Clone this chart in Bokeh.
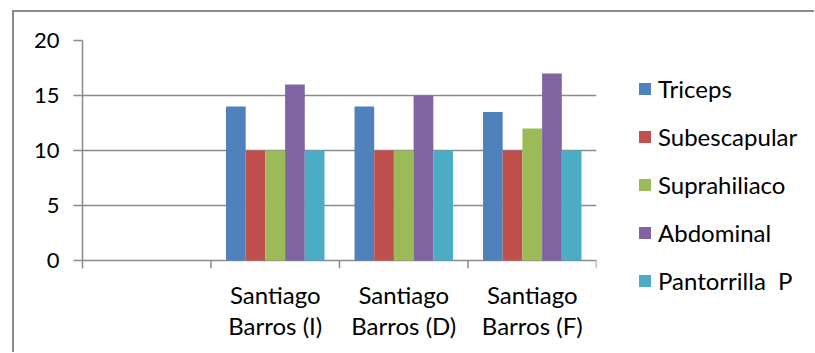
from bokeh.plotting import figure
from bokeh.layouts import row
from bokeh.models import (FactorRange, Range1d, ColumnDataSource, FixedTicker,
                          Legend, LegendItem)
from bokeh.transform import dodge
from bokeh.embed import file_html
from bokeh.resources import INLINE

# ---- data ----
categories = ["Santiago\nBarros (I)", "Santiago\nBarros (D)", "Santiago\nBarros (F)"]
factors = [""] + categories
series_names = ["Triceps", "Subescapular", "Suprahiliaco", "Abdominal", "Pantorrilla  P"]
triceps = [14, 14, 13.5]
subescapular = [10, 10, 10]
suprahiliaco = [10, 10, 12]
abdominal = [16, 15, 17]
pantorrilla = [10, 10, 10]
y_ticks = [0, 5, 10, 15, 20]

colors = ["#4F81BD", "#C0504D", "#9BBB59", "#8064A2", "#4BACC6"]
FONT = "Lato"
GRID = "#8a8a8a"

source = ColumnDataSource(dict(cat=categories, triceps=triceps, subescapular=subescapular,
                               suprahiliaco=suprahiliaco, abdominal=abdominal,
                               pantorrilla=pantorrilla))
cols = ["triceps", "subescapular", "suprahiliaco", "abdominal", "pantorrilla"]

p = figure(x_range=FactorRange(factors=factors), y_range=Range1d(-0.727, 20),
           width=584, height=340, output_backend="svg", toolbar_location=None,
           min_border_left=68, min_border_right=2, min_border_top=28, min_border_bottom=84)
p.outline_line_color = None
p.background_fill_color = "white"
p.border_fill_color = "white"

# legend-only companion figure
pl = figure(x_range=p.x_range, y_range=p.y_range, width=216, height=340,
            output_backend="svg", toolbar_location=None,
            x_axis_location=None, y_axis_location=None,
            min_border_left=0, min_border_right=0, min_border_top=0, min_border_bottom=0)
pl.outline_line_color = None
pl.grid.visible = False

unaligned = "frame_align" in pl.properties()
if unaligned:
    p.frame_align = False
    pl.frame_align = False

bw = 0.1533
items = []
for i, (c, name, col) in enumerate(zip(cols, series_names, colors)):
    xs = dodge("cat", (i - 2) * bw, range=p.x_range)
    p.vbar(x=xs, top=c, width=bw, bottom=0, source=source, fill_color=col, line_color=None)
    r = pl.vbar(x=xs, top=c, width=bw, bottom=0, source=source, fill_color=col,
                line_color=None, visible=False)
    items.append(LegendItem(label=name, renderers=[r]))

# category boundary ticks below the zero line
bsrc = ColumnDataSource(dict(cat=categories, y0=[0] * 3, y1=[-0.727] * 3))
p.segment(x0=dodge("cat", -0.5, range=p.x_range), x1=dodge("cat", -0.5, range=p.x_range),
          y0="y0", y1="y1", source=bsrc, line_color=GRID, line_width=1.5)
esrc = ColumnDataSource(dict(cat=categories[-1:], y0=[0], y1=[-0.727]))
p.segment(x0=dodge("cat", 0.5, range=p.x_range), x1=dodge("cat", 0.5, range=p.x_range),
          y0="y0", y1="y1", source=esrc, line_color=GRID, line_width=1.5)

# grid
p.xgrid.visible = False
p.ygrid.ticker = FixedTicker(ticks=y_ticks)
p.ygrid.grid_line_color = GRID
p.ygrid.grid_line_width = 1.3

# y axis
p.yaxis.ticker = FixedTicker(ticks=y_ticks)
p.yaxis.axis_line_color = GRID
p.yaxis.axis_line_width = 1.5
p.yaxis.major_tick_line_color = GRID
p.yaxis.major_tick_line_width = 1.3
p.yaxis.major_tick_out = 9
p.yaxis.major_tick_in = 0
p.yaxis.minor_tick_line_color = None
p.yaxis.major_label_standoff = 14
p.yaxis.major_label_text_font = FONT
p.yaxis.major_label_text_font_size = "22px"
p.yaxis.major_label_text_color = "black"

# x axis
p.xaxis.axis_line_color = None
p.xaxis.major_tick_line_color = None
p.xaxis.major_tick_out = 0
p.xaxis.major_tick_in = 0
p.xaxis.major_label_standoff = 11
p.xaxis.major_label_text_font = FONT
p.xaxis.major_label_text_font_size = "24px"
p.xaxis.major_label_text_color = "black"
p.xaxis.major_label_text_line_height = 1.1
p.xaxis.major_label_orientation = "horizontal"

legend = Legend(items=items, location=(39, 57 if unaligned else -25),
                glyph_width=15, glyph_height=15,
                label_height=30, spacing=18, padding=0, margin=0,
                border_line_color=None, background_fill_alpha=0,
                label_text_font=FONT, label_text_font_size="24px",
                label_standoff=6, label_text_color="black")
pl.add_layout(legend)

layout = row(p, pl, spacing=0)
layout.margin = (10, 0, 0, 12)
layout.styles = {"border-left": "2px solid #8c8c8c", "border-top": "2px solid #8c8c8c"}

open("out.html", "w").write(file_html(layout, INLINE))
